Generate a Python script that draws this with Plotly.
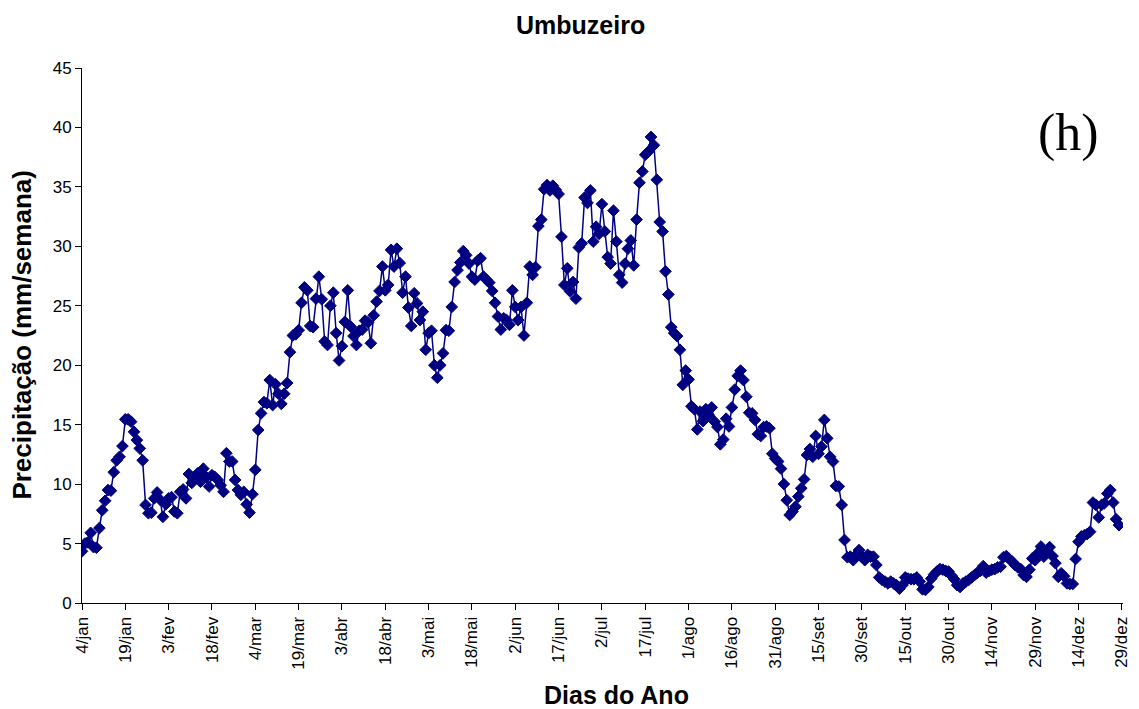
import plotly.graph_objects as go

# Weekly precipitation (mm/semana), one value per day starting 4/jan
precip = [
    4.35, 5.0, 5.1, 5.9, 4.7, 4.65, 6.3, 7.8, 8.6, 9.5,
    9.45, 11.0, 12.0, 12.3, 13.2, 15.45, 15.45, 15.25, 14.4, 13.7,
    13.0, 12.0, 8.25, 7.55, 7.6, 8.8, 9.3, 8.7, 7.25, 8.3,
    8.8, 8.9, 7.7, 7.55, 9.35, 9.55, 8.8, 10.85, 10.1, 10.6,
    10.9, 10.2, 11.3, 10.6, 9.8, 10.75, 10.6, 10.35, 9.9, 9.35,
    12.6, 11.9, 11.9, 10.35, 9.5, 9.1, 9.35, 8.3, 7.6, 9.15,
    11.2, 14.55, 15.95, 16.9, 16.8, 18.75, 16.65, 18.4, 17.6, 16.75,
    17.6, 18.5, 21.1, 22.5, 22.6, 22.95, 25.25, 26.55, 26.3, 23.3,
    23.2, 25.6, 27.45, 25.55, 22.0, 21.7, 25.0, 26.1, 22.7, 20.4,
    21.6, 23.65, 26.3, 23.25, 22.45, 21.7, 22.9, 23.0, 23.75, 23.6,
    21.85, 24.2, 25.35, 26.25, 28.3, 26.3, 26.75, 29.7, 28.3, 29.8,
    28.6, 26.1, 27.45, 24.85, 23.3, 26.05, 25.2, 23.8, 24.5, 21.3,
    22.7, 22.9, 20.0, 18.95, 20.0, 21.0, 22.95, 22.9, 24.9, 27.0,
    28.0, 28.65, 29.6, 29.25, 28.55, 27.45, 27.2, 28.8, 29.0, 27.45,
    27.2, 26.95, 26.25, 25.25, 24.1, 23.0, 23.95, 23.8, 23.4, 26.3,
    24.9, 23.8, 24.9, 22.5, 25.25, 28.3, 27.6, 28.25, 31.7, 32.25,
    34.8, 35.15, 34.7, 35.1, 34.75, 34.4, 30.8, 26.75, 28.15, 26.2,
    27.0, 25.6, 29.9, 30.25, 34.1, 33.65, 34.7, 30.4, 31.65, 31.05,
    33.55, 31.25, 29.1, 28.55, 33.0, 30.4, 27.6, 26.95, 28.55, 29.8,
    30.5, 28.4, 32.25, 35.35, 36.3, 37.7, 37.95, 39.2, 38.5, 35.6,
    32.05, 31.25, 27.9, 25.95, 23.2, 22.7, 22.45, 21.3, 18.35, 19.55,
    18.8, 16.55, 16.3, 14.6, 16.1, 15.3, 16.3, 15.8, 16.45, 15.25,
    14.8, 13.35, 13.75, 15.5, 14.85, 16.45, 17.95, 19.1, 19.55, 18.75,
    17.35, 16.0, 15.95, 15.4, 14.2, 14.05, 14.8, 14.85, 14.7, 12.55,
    12.15, 11.9, 11.3, 10.0, 8.65, 7.4, 7.7, 8.1, 8.95, 9.65,
    10.4, 12.45, 12.95, 12.3, 14.05, 12.55, 13.15, 15.4, 13.85, 12.3,
    11.9, 9.85, 9.8, 8.25, 5.3, 3.85, 3.9, 3.6, 4.05, 4.45,
    3.9, 3.6, 4.05, 3.9, 3.9, 3.2, 2.15, 1.95, 1.8, 1.65,
    1.8, 1.65, 1.5, 1.2, 1.5, 2.15, 2.05, 2.0, 2.0, 2.15,
    1.8, 1.15, 1.1, 1.35, 2.05, 2.4, 2.65, 2.85, 2.8, 2.7,
    2.65, 2.3, 2.0, 1.5, 1.35, 1.65, 1.8, 1.95, 2.15, 2.35,
    2.55, 2.7, 3.1, 2.55, 2.7, 2.8, 2.85, 3.0, 3.05, 3.85,
    3.95, 3.7, 3.5, 3.2, 3.0, 2.85, 2.35, 2.2, 2.8, 3.75,
    3.6, 4.2, 4.75, 3.9, 4.4, 4.7, 3.95, 3.35, 2.2, 2.5,
    2.25, 1.65, 1.6, 1.6, 3.7, 5.15, 5.6, 5.7, 5.8, 6.0,
    8.45, 8.25, 7.2, 8.25, 8.4, 9.2, 9.5, 8.45, 7.05, 6.55,
]
first_day = 4
dias = list(range(first_day, first_day + len(precip)))

tick_days = list(range(4, 365, 15))
tick_labels = ["4/jan", "19/jan", "3/fev", "18/fev", "4/mar", "19/mar", "3/abr",
               "18/abr", "3/mai", "18/mai", "2/jun", "17/jun", "2/jul", "17/jul",
               "1/ago", "16/ago", "31/ago", "15/set", "30/set", "15/out", "30/out",
               "14/nov", "29/nov", "14/dez", "29/dez"]

navy = "#000080"
sans = "Arial, Liberation Sans, sans-serif"

fig = go.Figure(go.Scatter(
    x=dias, y=precip, mode="lines+markers",
    line=dict(color=navy, width=1.5),
    marker=dict(symbol="diamond", size=9, color=navy, line=dict(color=navy, width=1)),
    showlegend=False,
))

# The page body adds an 8px offset; figure is sized to fit the 1139x709 window.
fig.update_layout(
    width=1131, height=701,
    margin=dict(l=74, r=16, t=60, b=106),
    paper_bgcolor="white", plot_bgcolor="white",
    font=dict(family=sans, color="black", size=17),
)
fig.update_xaxes(
    range=[4, 364.4], tickmode="array", tickvals=tick_days, ticktext=tick_labels,
    tickangle=-90, ticks="outside", ticklen=6, tickwidth=1, tickcolor="black",
    showline=True, linecolor="black", linewidth=1, showgrid=False, zeroline=False,
    tickfont=dict(size=17, family=sans), automargin=False,
)
fig.update_yaxes(
    range=[0, 45], dtick=5, ticks="outside", ticklen=6, tickwidth=1, tickcolor="black",
    showline=True, linecolor="black", linewidth=1, showgrid=False, zeroline=False,
    tickfont=dict(size=17, family=sans), automargin=False,
)
# Titles as annotations (precise placement)
fig.add_annotation(text="<b>Umbuzeiro</b>", xref="paper", yref="paper",
                   x=0.479, y=1.080, xanchor="center", yanchor="middle",
                   showarrow=False, font=dict(size=25, family=sans, color="black"))
fig.add_annotation(text="<b>Dias do Ano</b>", xref="paper", yref="paper",
                   x=0.513, y=-0.172, xanchor="center", yanchor="middle",
                   showarrow=False, font=dict(size=25, family=sans, color="black"))
fig.add_annotation(text="<b>Precipitação (mm/semana)</b>", xref="paper", yref="paper",
                   x=-0.058, y=0.501, xanchor="center", yanchor="middle", textangle=-90,
                   showarrow=False, font=dict(size=26, family=sans, color="black"))
fig.add_annotation(
    text="(h)", xref="paper", yref="paper", x=0.948, y=0.879,
    xanchor="center", yanchor="middle", showarrow=False,
    font=dict(family="Liberation Serif, Times New Roman, serif", size=52, color="black"),
)
fig.write_html("out.html")
